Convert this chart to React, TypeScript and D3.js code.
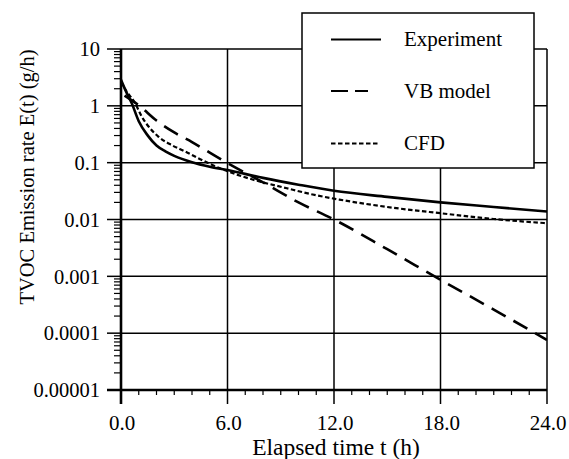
import React from "react";
import * as d3 from "d3";

const yTickValues = [10, 1, 0.1, 0.01, 0.001, 0.0001, 0.00001];
const yTickLabels = ["10", "1", "0.1", "0.01", "0.001", "0.0001", "0.00001"];
const xTickValues = [0, 6, 12, 18, 24];
const xTickLabels = ["0.0", "6.0", "12.0", "18.0", "24.0"];

const expTime = [0, 0.3, 0.6, 1.0, 1.5, 2.0, 2.5, 3.0, 4.0, 5.0, 6.0, 8.0, 10.0, 12.0, 15.0, 18.0, 21.0, 24.0];
const expValue = [2.87, 1.74, 1.12, 0.537, 0.302, 0.2, 0.158, 0.132, 0.102, 0.085, 0.074, 0.054, 0.041, 0.032, 0.025, 0.02, 0.0166, 0.0138];

const vbTime = [0.2, 1, 2, 3, 4, 5, 6, 8, 10, 12, 15, 18, 21, 24];
const vbValue = [1.51, 1.02, 0.55, 0.34, 0.23, 0.15, 0.098, 0.045, 0.02, 0.01, 0.003, 0.00087, 0.00026, 0.000076];

const cfdTime = [0, 0.3, 0.79, 1.17, 1.54, 2.1, 2.85, 3.6, 4.35, 5.58, 7.45, 9.34, 10.8, 12.3, 15, 18, 21, 24];
const cfdValue = [2.63, 1.82, 1.12, 0.646, 0.437, 0.288, 0.204, 0.158, 0.12, 0.0794, 0.0501, 0.0355, 0.0275, 0.0224, 0.0166, 0.0129, 0.0102, 0.0086];

const seriesNames = ["Experiment", "VB model", "CFD"];

const W = 569;
const H = 459;
const M = { left: 121, right: 22, top: 49, bottom: 69 };
const FONT = "Liberation Serif, DejaVu Serif, Times New Roman, serif";

export default function App() {
  const x = d3.scaleLinear().domain([0, 24]).range([M.left, W - M.right]);
  const y = d3.scaleLog().domain([0.00001, 10]).range([H - M.bottom, M.top]);
  const line = d3
    .line<[number, number]>()
    .x((d) => x(d[0]))
    .y((d) => y(d[1]))
    .curve(d3.curveMonotoneX);

  const zip = (a: number[], b: number[]) => a.map((t, i) => [t, b[i]] as [number, number]);
  const series = [
    { name: seriesNames[0], data: zip(expTime, expValue), dash: "none", width: 2.6 },
    { name: seriesNames[1], data: zip(vbTime, vbValue), dash: "16 9", width: 2.6 },
    { name: seriesNames[2], data: zip(cfdTime, cfdValue), dash: "4.5 2.5", width: 2.2 },
  ];

  const x0 = x(0), x1 = x(24), y0 = y(0.00001), y1 = y(10);

  const minorY: number[] = [];
  for (let e = -5; e < 1; e++) {
    for (let k = 2; k <= 9; k++) minorY.push(k * Math.pow(10, e));
  }
  const minorX: number[] = d3.range(1, 24).filter((v) => v % 6 !== 0);

  const legend = { x: 302, y: 13, w: 232, h: 155 };
  const rowY = [39.5, 91, 143.5];
  const ts = { fontFamily: FONT };

  return (
    <svg
      width={W}
      height={H}
      style={{ position: "absolute", left: 0, top: 0, background: "#fff", fontFamily: FONT }}
    >
      <defs>
        <clipPath id="plotClip">
          <rect x={x0} y={y1} width={x1 - x0} height={y0 - y1} />
        </clipPath>
      </defs>
      {yTickValues.map((v, i) => (
        <line key={"hg" + i} x1={x0} x2={x1} y1={y(v)} y2={y(v)} stroke="#000" strokeWidth={1.5} />
      ))}
      {xTickValues.map((v, i) => (
        <line key={"vg" + i} x1={x(v)} x2={x(v)} y1={y1} y2={y0 + 14} stroke="#000" strokeWidth={1.5} />
      ))}
      <g clipPath="url(#plotClip)">
        {series.map((s) => (
          <path
            key={s.name}
            d={line(s.data) || ""}
            fill="none"
            stroke="#000"
            strokeWidth={s.width}
            strokeDasharray={s.dash}
          />
        ))}
      </g>
      {minorY.map((v, i) => (
        <line key={"my" + i} x1={x0 - 7} x2={x0} y1={y(v)} y2={y(v)} stroke="#000" strokeWidth={1.2} />
      ))}
      {yTickValues.map((v, i) => (
        <line key={"My" + i} x1={x0 - 14} x2={x0} y1={y(v)} y2={y(v)} stroke="#000" strokeWidth={1.5} />
      ))}
      {minorX.map((v, i) => (
        <line key={"mx" + i} x1={x(v)} x2={x(v)} y1={y0} y2={y0 + 5} stroke="#000" strokeWidth={1.2} />
      ))}
      <line x1={x0} x2={x0} y1={y1} y2={y0 + 14} stroke="#000" strokeWidth={2.6} />
      <line x1={x0 - 14} x2={x1} y1={y0} y2={y0} stroke="#000" strokeWidth={2.6} />
      {yTickValues.map((v, i) => (
        <text key={"yl" + i} x={x0 - 21} y={y(v)} dy="0.35em" textAnchor="end" fontSize={20.5} style={ts}>
          {yTickLabels[i]}
        </text>
      ))}
      {xTickValues.map((v, i) => (
        <text key={"xl" + i} x={x(v) + 1} y={430} textAnchor="middle" fontSize={21} style={ts}>
          {xTickLabels[i]}
        </text>
      ))}
      <text x={(x0 + x1) / 2 + 2} y={455} textAnchor="middle" fontSize={23.5} style={ts}>
        Elapsed time t (h)
      </text>
      <text transform={`translate(34, 177) rotate(-90)`} textAnchor="middle" fontSize={20.5} style={ts}>
        TVOC Emission rate E(t) (g/h)
      </text>
      <rect x={legend.x} y={legend.y} width={legend.w} height={legend.h} fill="#fff" stroke="#000" strokeWidth={1.5} />
      {series.map((s, i) => (
        <g key={"lg" + i}>
          <line
            x1={331}
            x2={i === 1 ? 368 : i === 2 ? 378 : 381}
            y1={rowY[i]}
            y2={rowY[i]}
            stroke="#000"
            strokeWidth={s.width - 0.4}
            strokeDasharray={i === 1 ? "17 7" : s.dash}
          />
          <text x={404} y={rowY[i]} dy="0.33em" fontSize={21} style={ts}>
            {s.name}
          </text>
        </g>
      ))}
    </svg>
  );
}
